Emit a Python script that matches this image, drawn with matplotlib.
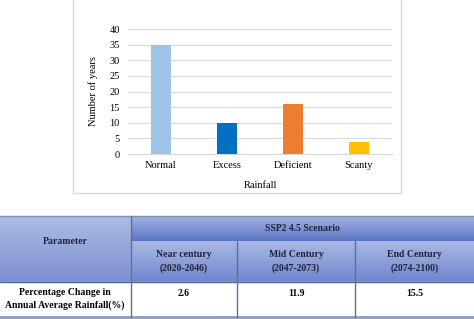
import numpy as np
import matplotlib
matplotlib.use('Agg')
import matplotlib.pyplot as plt
from matplotlib.colors import LinearSegmentedColormap
from matplotlib.patches import Rectangle

# Data
categories = ['Normal', 'Excess', 'Deficient', 'Scanty']
years = [35, 10, 16, 4]
bar_colors = ['#9DC3E6', '#0070C0', '#ED7D31', '#FFC000']

scenario = 'SSP2 4.5 Scenario'
periods = ['Near century\n(2020-2046)', 'Mid Century\n(2047-2073)', 'End Century\n(2074-2100)']
param_name = 'Percentage Change in\nAnnual Average Rainfall(%)'
changes = ['2.6', '11.9', '15.5']

plt.rcParams['font.family'] = ['Liberation Serif', 'DejaVu Serif']

W, H = 474, 319
fig = plt.figure(figsize=(W/100, H/100), dpi=100)

# Overlay axes in pixel coordinates (for the chart frame and the table)
ov = fig.add_axes([0, 0, 1, 1])
ov.set_xlim(0, W)
ov.set_ylim(H, 0)
ov.axis('off')

# Chart frame
ov.add_patch(Rectangle((73, -2), 328, 195, fill=False, ec='#D9D9D9', lw=1))

# Bar chart
ax = fig.add_axes([128/W, 1-154/H, 264/W, 125/H])
x = np.arange(len(categories))
ax.bar(x, years, width=0.3, color=bar_colors, zorder=3)
ax.set_xlim(-0.5, len(categories)-0.5)
ax.set_ylim(0, 40)
ax.set_yticks(range(0, 41, 5))
ax.set_xticks(x)
ax.set_xticklabels(categories, fontsize=7.5)
ax.tick_params(axis='y', labelsize=7.5, length=0, pad=6)
ax.tick_params(axis='x', length=0, pad=5)
ax.grid(axis='y', color='#D9D9D9', lw=0.8, zorder=0)
for s in ['top', 'right', 'left']:
	ax.spines[s].set_visible(False)
ax.spines['bottom'].set_color('#D9D9D9')
ax.set_xlabel('Rainfall', fontsize=7.5, labelpad=8)
ax.set_ylabel('Number of years', fontsize=7.5, labelpad=8)

# Table
def grad_cell(x0, x1, y0, y1, top, bottom):
	cmap = LinearSegmentedColormap.from_list('g', [top, bottom])
	g = np.linspace(0, 1, 50).reshape(-1, 1)
	ov.imshow(g, cmap=cmap, extent=(x0, x1, y1, y0), aspect='auto', interpolation='bilinear', zorder=1)

cols = [0, 131, 237, 355, W]
rows = [216, 241, 282, 317]
grad_cell(0, 131, rows[0], rows[2], '#AEBBE4', '#7C90CF')
grad_cell(131, W, rows[0], rows[1], '#A2B2E1', '#5B76C5')
for i in range(3):
	grad_cell(cols[i+1], cols[i+2], rows[1], rows[2], '#AAB8E3', '#6F86CC')
ov.add_patch(Rectangle((0, rows[2]), W, rows[3]-rows[2], color='white', zorder=1))

lc = '#5F6F9A'
ov.plot([0, W], [rows[0], rows[0]], color='#7F8FB5', lw=1, zorder=2)
ov.plot([0, W], [rows[2], rows[2]], color='#4F63A0', lw=1, zorder=2)
ov.plot([0, W], [rows[3], rows[3]], color='#8E9BBE', lw=2, zorder=2)
ov.plot([131, 131], [rows[0], rows[3]], color=lc, lw=1, zorder=2)
for cx in cols[2:4]:
	ov.plot([cx, cx], [rows[1], rows[3]], color=lc, lw=1, zorder=2)

tc = '#1F2340'
fs = 7
ov.text(65, 241, 'Parameter', ha='center', va='center', fontsize=fs, weight='bold', color=tc, zorder=3)
ov.text((131+W)/2, 228.5, scenario, ha='center', va='center', fontsize=fs, weight='bold', color=tc, zorder=3)
for i, p in enumerate(periods):
	ov.text((cols[i+1]+cols[i+2])/2, 261.5, p, ha='center', va='center', fontsize=fs,
		weight='bold', color=tc, linespacing=1.5, zorder=3)
ov.text(65, 299, param_name, ha='center', va='center', fontsize=fs, weight='bold',
	color='black', linespacing=1.5, zorder=3)
for i, v in enumerate(changes):
	ov.text((cols[i+1]+cols[i+2])/2, 293, v, ha='center', va='center', fontsize=fs,
		weight='bold', color='black', zorder=3)

fig.savefig('out.png', dpi=100)
